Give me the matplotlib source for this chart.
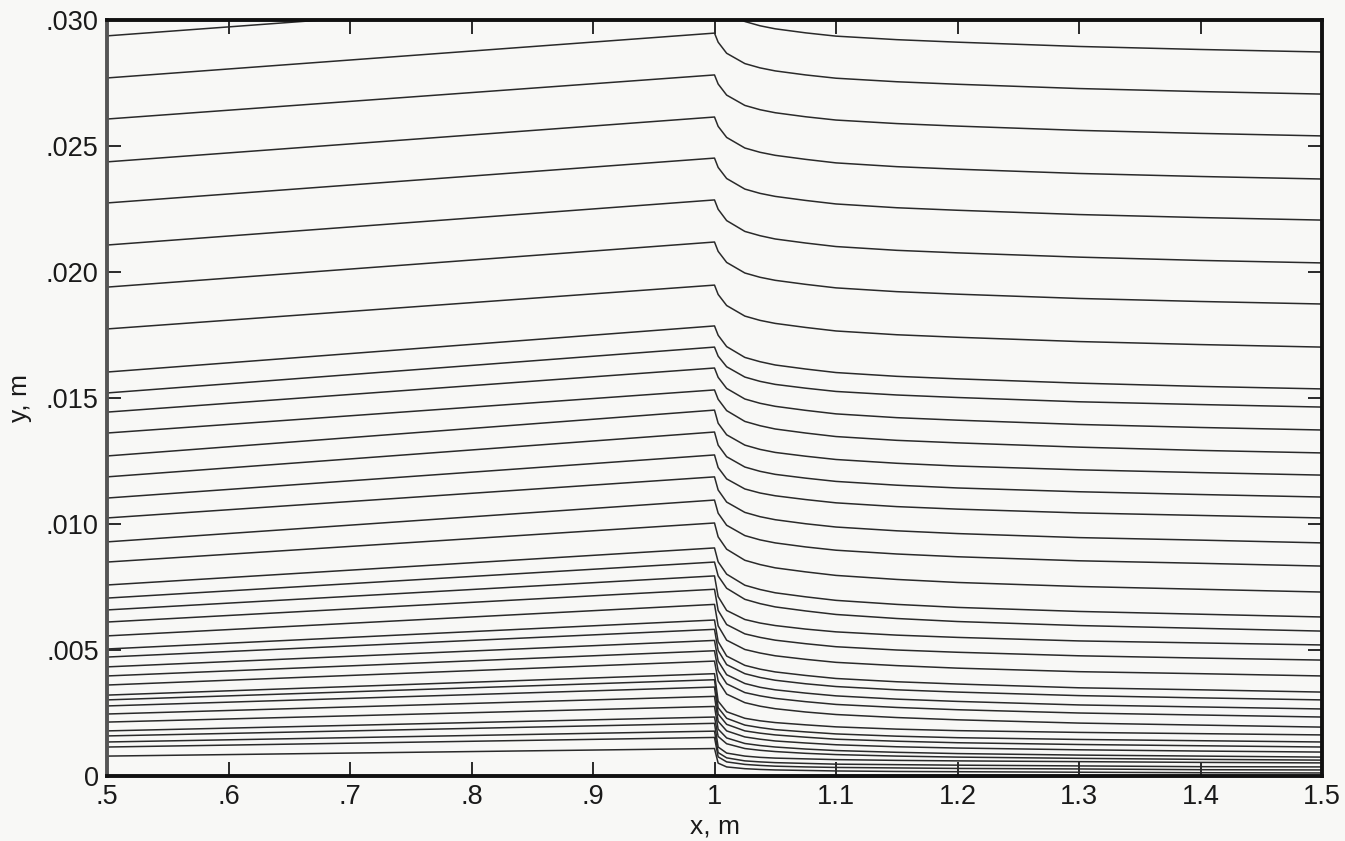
import numpy as np
import matplotlib
matplotlib.use("Agg")
import matplotlib.pyplot as plt

# x stations (m) where each grid line is sampled
x_stations = [0.5, 1.0, 1.003, 1.01, 1.025, 1.0375, 1.05, 1.075, 1.1, 1.15, 1.2, 1.3, 1.4, 1.5]

# y of each of the 38 lines at each station, in mm
y_x0500 = [29.37, 27.70, 26.07, 24.37, 22.74, 21.07, 19.40, 17.74, 16.03, 15.20, 14.44, 13.61, 12.70, 11.87, 11.03, 10.24, 9.29, 8.49, 7.58, 7.06, 6.59, 6.11, 5.56, 5.04, 4.72, 4.33, 3.97, 3.61, 3.21, 3.02, 2.78, 2.46, 2.14, 1.79, 1.59, 1.35, 1.15, 0.79]
y_x1000 = [31.15, 29.48, 27.82, 26.15, 24.52, 22.86, 21.19, 19.48, 17.86, 17.02, 16.19, 15.32, 14.52, 13.65, 12.74, 11.87, 10.95, 10.04, 9.05, 8.49, 7.94, 7.41, 6.81, 6.19, 5.82, 5.38, 4.97, 4.56, 4.06, 3.82, 3.53, 3.16, 2.76, 2.34, 2.09, 1.78, 1.53, 1.09]
y_x1003 = [30.79, 29.12, 27.46, 25.78, 24.15, 22.49, 20.82, 19.11, 17.49, 16.66, 15.82, 14.95, 14.00, 13.13, 12.24, 11.35, 10.43, 9.49, 8.50, 7.94, 7.12, 6.57, 5.96, 5.33, 4.98, 4.56, 4.18, 3.77, 2.97, 2.71, 2.46, 2.17, 1.86, 1.57, 1.15, 0.93, 0.76, 0.51]
y_x1010 = [30.35, 28.68, 27.02, 25.34, 23.71, 22.04, 20.38, 18.67, 17.04, 16.24, 15.38, 14.50, 13.54, 12.67, 11.79, 10.87, 9.95, 9.00, 8.01, 7.45, 6.57, 6.01, 5.39, 4.76, 4.42, 4.02, 3.66, 3.25, 2.55, 2.29, 2.05, 1.79, 1.51, 1.28, 0.91, 0.72, 0.56, 0.36]
y_x1025 = [29.94, 28.27, 26.61, 24.92, 23.29, 21.61, 19.96, 18.25, 16.61, 15.83, 14.96, 14.07, 13.13, 12.26, 11.39, 10.46, 9.54, 8.56, 7.57, 7.01, 6.21, 5.64, 5.02, 4.39, 4.06, 3.67, 3.31, 2.91, 2.29, 2.02, 1.79, 1.55, 1.29, 1.09, 0.79, 0.60, 0.46, 0.29]
y_x10375 = [29.77, 28.10, 26.44, 24.75, 23.12, 21.44, 19.79, 18.08, 16.44, 15.66, 14.79, 13.90, 12.96, 12.09, 11.23, 10.29, 9.37, 8.39, 7.40, 6.84, 6.07, 5.50, 4.88, 4.24, 3.91, 3.52, 3.18, 2.77, 2.19, 1.92, 1.70, 1.46, 1.21, 1.02, 0.74, 0.56, 0.42, 0.26]
y_x1050 = [29.65, 27.98, 26.32, 24.63, 23.00, 21.31, 19.67, 17.96, 16.31, 15.54, 14.67, 13.77, 12.84, 11.97, 11.12, 10.17, 9.25, 8.26, 7.27, 6.71, 5.97, 5.39, 4.77, 4.13, 3.80, 3.42, 3.08, 2.67, 2.12, 1.84, 1.63, 1.39, 1.15, 0.97, 0.71, 0.53, 0.39, 0.24]
y_x1075 = [29.49, 27.82, 26.16, 24.47, 22.84, 21.15, 19.51, 17.80, 16.15, 15.39, 14.51, 13.61, 12.69, 11.82, 10.97, 10.01, 9.09, 8.10, 7.11, 6.55, 5.83, 5.25, 4.63, 3.99, 3.66, 3.29, 2.95, 2.54, 2.03, 1.75, 1.54, 1.31, 1.07, 0.90, 0.68, 0.50, 0.36, 0.22]
y_x1100 = [29.36, 27.69, 26.03, 24.33, 22.70, 21.01, 19.37, 17.66, 16.01, 15.26, 14.37, 13.47, 12.56, 11.69, 10.84, 9.88, 8.96, 7.96, 6.97, 6.41, 5.72, 5.13, 4.51, 3.87, 3.55, 3.18, 2.84, 2.44, 1.95, 1.67, 1.46, 1.24, 1.01, 0.85, 0.65, 0.47, 0.34, 0.20]
y_x1150 = [29.22, 27.55, 25.89, 24.18, 22.55, 20.86, 19.22, 17.51, 15.86, 15.12, 14.22, 13.32, 12.41, 11.54, 10.69, 9.73, 8.81, 7.80, 6.81, 6.25, 5.59, 5.00, 4.38, 3.74, 3.42, 3.05, 2.72, 2.32, 1.86, 1.58, 1.38, 1.16, 0.94, 0.79, 0.62, 0.45, 0.32, 0.18]
y_x1200 = [29.12, 27.45, 25.79, 24.08, 22.45, 20.76, 19.12, 17.41, 15.76, 15.02, 14.12, 13.22, 12.30, 11.43, 10.59, 9.62, 8.70, 7.68, 6.69, 6.13, 5.50, 4.91, 4.28, 3.65, 3.33, 2.96, 2.63, 2.23, 1.80, 1.52, 1.32, 1.11, 0.89, 0.75, 0.60, 0.43, 0.30, 0.17]
y_x1300 = [28.95, 27.28, 25.62, 23.91, 22.28, 20.59, 18.95, 17.24, 15.59, 14.85, 13.95, 13.05, 12.15, 11.28, 10.44, 9.46, 8.54, 7.52, 6.53, 5.97, 5.36, 4.77, 4.14, 3.50, 3.19, 2.82, 2.50, 2.10, 1.73, 1.45, 1.25, 1.04, 0.83, 0.70, 0.57, 0.40, 0.28, 0.15]
y_x1400 = [28.83, 27.16, 25.50, 23.79, 22.16, 20.46, 18.83, 17.12, 15.46, 14.74, 13.83, 12.92, 12.04, 11.17, 10.34, 9.36, 8.44, 7.41, 6.42, 5.86, 5.28, 4.68, 4.06, 3.42, 3.10, 2.74, 2.42, 2.02, 1.68, 1.40, 1.20, 0.99, 0.79, 0.66, 0.54, 0.37, 0.25, 0.13]
y_x1500 = [28.73, 27.06, 25.40, 23.69, 22.06, 20.36, 18.73, 17.02, 15.36, 14.64, 13.73, 12.82, 11.94, 11.07, 10.24, 9.25, 8.33, 7.30, 6.31, 5.75, 5.20, 4.60, 3.97, 3.33, 3.02, 2.66, 2.34, 1.94, 1.63, 1.35, 1.15, 0.95, 0.75, 0.63, 0.52, 0.36, 0.24, 0.12]

x_ticks = [0.5, 0.6, 0.7, 0.8, 0.9, 1.0, 1.1, 1.2, 1.3, 1.4, 1.5]
x_ticklabels = [".5", ".6", ".7", ".8", ".9", "1", "1.1", "1.2", "1.3", "1.4", "1.5"]
y_ticks = [0, 0.005, 0.010, 0.015, 0.020, 0.025, 0.030]
y_ticklabels = ["0", ".005", ".010", ".015", ".020", ".025", ".030"]

plt.rcParams['font.family'] = ['Liberation Sans', 'DejaVu Sans']

bg = '#f8f8f6'
fig = plt.figure(figsize=(13.45, 8.41), dpi=100, facecolor=bg)
ax = fig.add_axes([107/1345, 1 - 776/841, (1322 - 107)/1345, (776 - 20)/841])
ax.set_facecolor(bg)

cols = np.array([y_x0500, y_x1000, y_x1003, y_x1010, y_x1025, y_x10375, y_x1050,
                 y_x1075, y_x1100, y_x1150, y_x1200, y_x1300, y_x1400, y_x1500]) / 1000.0
for i in range(cols.shape[1]):
    ax.plot(x_stations, cols[:, i], color='#2a2a2a', lw=1.1, solid_joinstyle='round')

ax.set_xlim(0.5, 1.5)
ax.set_ylim(0, 0.030)
ax.set_xticks(x_ticks)
ax.set_xticklabels(x_ticklabels)
ax.set_yticks(y_ticks)
ax.set_yticklabels(y_ticklabels)
ax.tick_params(direction='in', top=True, right=True, length=10, width=1.3,
               labelsize=19.5, colors='#1a1a1a', pad=6)
for name, sp in ax.spines.items():
    sp.set_linewidth(2.8)
    sp.set_color('#111111')
ax.spines['left'].set_color('#555555')

ax.set_xlabel('x, m', fontsize=19, color='#1a1a1a', labelpad=3)
ax.set_ylabel('y, m', fontsize=19, color='#1a1a1a', labelpad=10)

fig.savefig('out.png', dpi=100, facecolor=bg)
